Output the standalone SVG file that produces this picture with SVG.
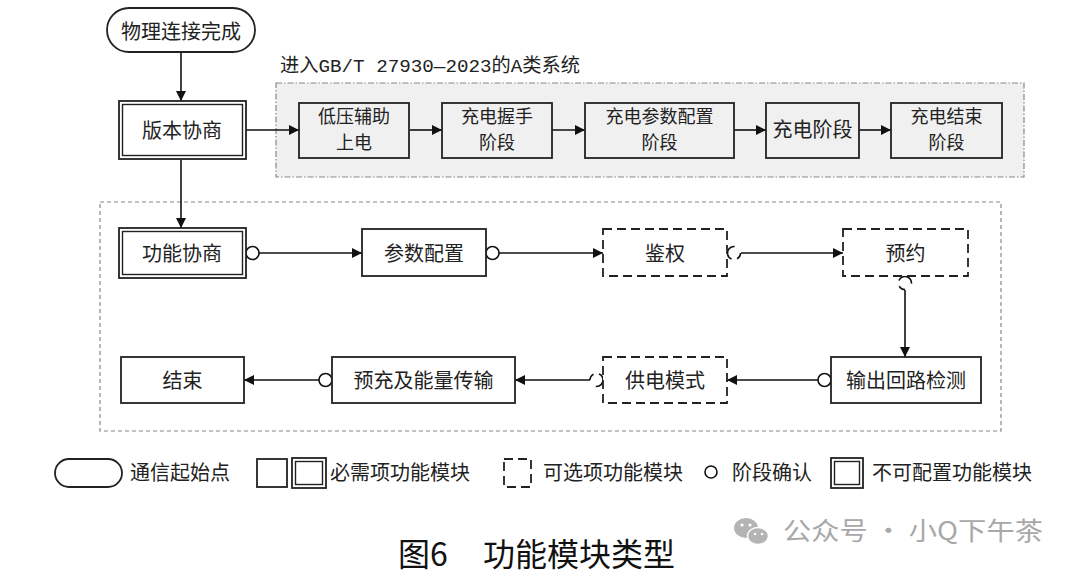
<svg xmlns="http://www.w3.org/2000/svg" width="1080" height="576" viewBox="0 0 1080 576">
<defs>
<marker id="arr" viewBox="0 0 10 10" refX="10" refY="5" markerWidth="10" markerHeight="10" markerUnits="userSpaceOnUse" orient="auto">
<path d="M0,0 L10,5 L0,10 Z" fill="#111"/>
</marker>
<style>
.t{font-family:"Noto Sans CJK SC","Noto Sans",sans-serif;font-size:20px;fill:#222;text-anchor:middle}
.t2{font-family:"Noto Sans CJK SC","Noto Sans",sans-serif;font-size:18px;fill:#222;text-anchor:middle}
.lt{font-family:"Noto Sans CJK SC","Noto Sans",sans-serif;font-size:20px;fill:#222}
.box{fill:#fff;stroke:#222;stroke-width:1.8}
.gbox{fill:#f0f0f0;stroke:#222;stroke-width:1.8}
.dbox{fill:#fff;stroke:#222;stroke-width:1.8;stroke-dasharray:9 5}
.in{fill:none;stroke:#222;stroke-width:1.4}
.arrow{fill:none;stroke:#111;stroke-width:1.6;marker-end:url(#arr)}
.ck{fill:#fff;stroke:#111;stroke-width:1.6}
.bk{fill:#fff;stroke:#111;stroke-width:1.6;stroke-dasharray:6.8 5.7 18.1 10.2}
</style>
</defs>
<rect width="1080" height="576" fill="#fff"/>

<g id="containers">
<rect x="276" y="83" width="748" height="94" fill="#f0f0f0" stroke="#888" stroke-width="1.2" stroke-dasharray="6 2 1.5 2"/>
<rect x="100" y="202" width="901" height="229" fill="none" stroke="#888" stroke-width="1.2" stroke-dasharray="4 3"/>
<text x="280" y="72" textLength="300" lengthAdjust="spacingAndGlyphs" style="font-family:'Liberation Mono','Noto Sans CJK SC',monospace;font-size:19px;fill:#222">进入GB/T 27930—2023的A类系统</text>
</g>

<g id="connectors">
<line class="arrow" x1="181" y1="52" x2="181" y2="101"/>
<line class="arrow" x1="246" y1="130" x2="299" y2="130"/>
<line class="arrow" x1="410" y1="130" x2="442" y2="130"/>
<line class="arrow" x1="552" y1="130" x2="585" y2="130"/>
<line class="arrow" x1="734" y1="130" x2="766" y2="130"/>
<line class="arrow" x1="859" y1="130" x2="891" y2="130"/>
<line class="arrow" x1="181" y1="160" x2="181" y2="228"/>
<line class="arrow" x1="259" y1="253" x2="362" y2="253"/>
<line class="arrow" x1="499" y1="253" x2="603" y2="253"/>
<line class="arrow" x1="741" y1="253" x2="843" y2="253"/>
<line class="arrow" x1="905" y1="290" x2="905" y2="357"/>
<line class="arrow" x1="818" y1="380" x2="727" y2="380"/>
<line class="arrow" x1="590" y1="380" x2="515" y2="380"/>
<line class="arrow" x1="319" y1="380" x2="244" y2="380"/>
<circle class="ck" cx="252.5" cy="253" r="6.5"/>
<circle class="ck" cx="492.5" cy="253" r="6.5"/>
<circle class="bk" cx="734" cy="253" r="6.5"/>
<circle class="bk" cx="905" cy="283" r="6.5" transform="rotate(90 905 283)"/>
<circle class="ck" cx="824.5" cy="380" r="6.5"/>
<circle class="bk" cx="596.5" cy="380" r="6.5" transform="rotate(180 596.5 380)"/>
<circle class="ck" cx="325.5" cy="380" r="6.5"/>
</g>

<g id="n-start">
<rect x="107" y="8" width="148" height="44" rx="22" class="box"/>
<text class="t" x="181" y="39">物理连接完成</text>
</g>
<g id="n-version">
<rect x="119" y="101" width="127" height="58" class="box"/>
<rect x="122.5" y="104.5" width="120" height="51" class="in"/>
<text class="t" x="182" y="138">版本协商</text>
</g>
<g id="n-lv">
<rect x="299" y="103" width="110" height="55" class="gbox"/>
<text class="t2" x="354" y="123">低压辅助</text>
<text class="t2" x="354" y="149">上电</text>
</g>
<g id="n-hs">
<rect x="442" y="103" width="110" height="55" class="gbox"/>
<text class="t2" x="497" y="123">充电握手</text>
<text class="t2" x="497" y="149">阶段</text>
</g>
<g id="n-param">
<rect x="585" y="103" width="149" height="55" class="gbox"/>
<text class="t2" x="659.5" y="123">充电参数配置</text>
<text class="t2" x="659.5" y="149">阶段</text>
</g>
<g id="n-charge">
<rect x="766" y="103" width="93" height="55" class="gbox"/>
<text class="t" x="812.5" y="137">充电阶段</text>
</g>
<g id="n-end-stage">
<rect x="891" y="103" width="111" height="55" class="gbox"/>
<text class="t2" x="946.5" y="123">充电结束</text>
<text class="t2" x="946.5" y="149">阶段</text>
</g>

<g id="n-func">
<rect x="119" y="228" width="127" height="50" class="box"/>
<rect x="122.5" y="231.5" width="120" height="43" class="in"/>
<text class="t" x="182" y="261">功能协商</text>
</g>
<g id="n-cfg">
<rect x="362" y="229" width="124" height="47" class="box"/>
<text class="t" x="424" y="261">参数配置</text>
</g>
<g id="n-auth">
<rect x="603" y="229" width="124" height="47" class="dbox"/>
<text class="t" x="665" y="261">鉴权</text>
</g>
<g id="n-resv">
<rect x="843" y="229" width="125" height="47" class="dbox"/>
<text class="t" x="905.5" y="261">预约</text>
</g>
<g id="n-detect">
<rect x="831" y="357" width="150" height="46" class="box"/>
<text class="t" x="906" y="388">输出回路检测</text>
</g>
<g id="n-supply">
<rect x="603" y="357" width="124" height="46" class="dbox"/>
<text class="t" x="665" y="388">供电模式</text>
</g>
<g id="n-pre">
<rect x="332" y="357" width="183" height="46" class="box"/>
<text class="t" x="423.5" y="388">预充及能量传输</text>
</g>
<g id="n-end">
<rect x="121" y="357" width="123" height="46" class="box"/>
<text class="t" x="182.5" y="388">结束</text>
</g>

<g id="legend">
<rect x="55" y="459" width="67" height="28" rx="14" class="box"/>
<text class="lt" x="130" y="480">通信起始点</text>
<rect x="257" y="459" width="30" height="28" class="box"/>
<rect x="292" y="458" width="34" height="30" class="box"/>
<rect x="295.5" y="461.5" width="27" height="23" class="in"/>
<text class="lt" x="330" y="480">必需项功能模块</text>
<rect x="504" y="459" width="27" height="28" class="dbox"/>
<text class="lt" x="543" y="480">可选项功能模块</text>
<circle cx="711" cy="472" r="6" class="ck"/>
<text class="lt" x="732" y="480">阶段确认</text>
<rect x="831" y="458" width="32" height="30" class="box"/>
<rect x="834.5" y="461.5" width="25" height="23" class="in"/>
<text class="lt" x="872" y="480">不可配置功能模块</text>
</g>

<g id="watermark">
<ellipse cx="746" cy="528" rx="12" ry="10" fill="#b4b4b4"/>
<ellipse cx="758" cy="536" rx="10.5" ry="8.5" fill="#b4b4b4" stroke="#fff" stroke-width="1.5"/>
<circle cx="742" cy="525" r="1.6" fill="#fff"/>
<circle cx="750" cy="525" r="1.6" fill="#fff"/>
<circle cx="755" cy="534" r="1.3" fill="#fff"/>
<circle cx="762" cy="534" r="1.3" fill="#fff"/>
<text x="783" y="540" textLength="260" lengthAdjust="spacingAndGlyphs" style="font-family:'Noto Sans CJK SC',sans-serif;font-size:25px;fill:#a8a8a8">公众号 · 小Q下午茶</text>
</g>

<g id="caption">
<text style="font-family:'Noto Sans CJK SC',sans-serif;font-size:32px;fill:#111"><tspan x="398" y="566">图6</tspan><tspan x="483" y="566">功能模块类型</tspan></text>
</g>
</svg>
